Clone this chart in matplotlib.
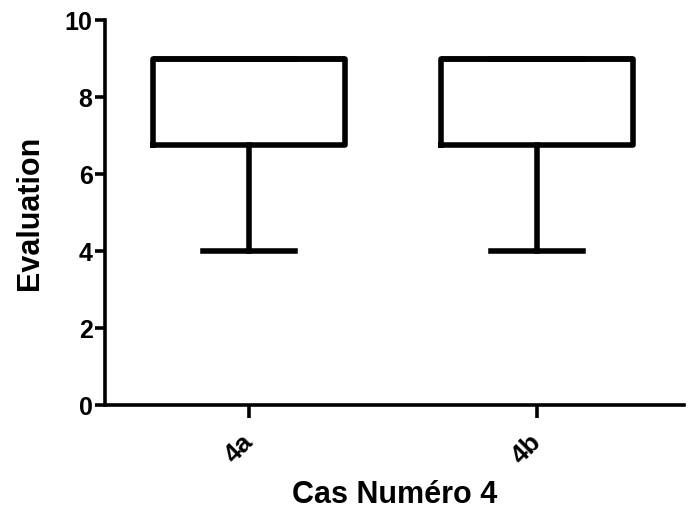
import matplotlib
matplotlib.use('Agg')
import matplotlib.pyplot as plt

#
# Data
#

categories = ['4a', '4b']
whisker_low = [4.0, 4.0]
q1 = [6.75, 6.75]
median = [9.0, 9.0]
q3 = [9.0, 9.0]
whisker_high = [9.0, 9.0]

plt.rcParams['font.family'] = ['Liberation Sans', 'DejaVu Sans']
plt.rcParams['font.weight'] = 'bold'

stats = []
for i, name in enumerate(categories):
    stats.append({'label': name, 'whislo': whisker_low[i], 'q1': q1[i], 'med': median[i],
                  'q3': q3[i], 'whishi': whisker_high[i], 'fliers': []})

#
# Graph
#

fig = plt.figure(figsize=(6.96, 5.17), dpi=100)
ax = fig.add_axes([0.151, 0.2166, 0.832, 0.7445])

box_lw = 4.0
axis_lw = 2.6
ax.bxp(stats, positions=[1, 2], widths=0.667, capwidths=0.32, showfliers=False,
       boxprops=dict(linewidth=box_lw, color='black', solid_joinstyle='round'),
       medianprops=dict(linewidth=box_lw, color='black'),
       whiskerprops=dict(linewidth=box_lw, color='black'),
       capprops=dict(linewidth=box_lw, color='black'))

ax.set_xlim(0.5, 2.51)
ax.set_ylim(0, 10)
ax.set_yticks([0, 2, 4, 6, 8, 10])
ax.set_xticks([1, 2])
ax.set_xticklabels(categories, rotation=45, ha='right', va='center', rotation_mode='anchor')

for side in ['top', 'right']:
    ax.spines[side].set_visible(False)
for side in ['left', 'bottom']:
    ax.spines[side].set_linewidth(axis_lw)

ax.tick_params(axis='y', length=7, width=axis_lw, labelsize=18, pad=2)
ax.tick_params(axis='x', length=9, width=axis_lw, labelsize=19, pad=15)

ax.set_xlabel('Cas Numéro 4', fontsize=22, fontweight='bold', labelpad=8)
ax.set_ylabel('Evaluation', fontsize=22, fontweight='bold', labelpad=14)

fig.savefig('out.png', dpi=100)
